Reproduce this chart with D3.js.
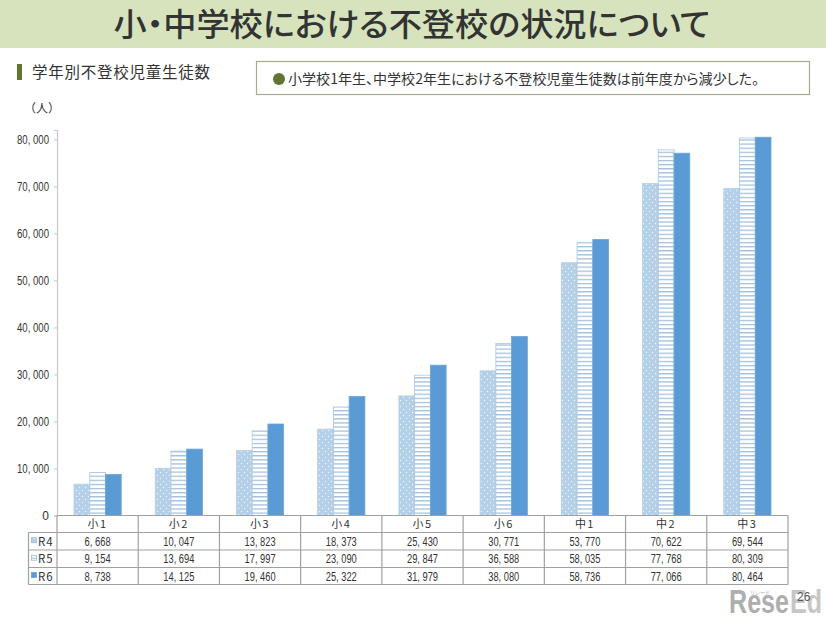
<!DOCTYPE html>
<html>
<head>
<meta charset="utf-8">
<script src="https://cdn.jsdelivr.net/npm/d3@7"></script>
<style>
html, body { margin: 0; padding: 0; background: #fff; }
text { font-family: "Noto Sans CJK JP", sans-serif; fill: #333; }
.palt { font-feature-settings: "palt"; }
.num { font-family: "Liberation Sans", sans-serif; }
</style>
</head>
<body>
<script>
var WIDTH = 826;
var HEIGHT = 617;

var categories = ['小1', '小2', '小3', '小4', '小5', '小6', '中1', '中2', '中3'];
var seriesNames = ['R4', 'R5', 'R6'];
var r4Values = [6668, 10047, 13823, 18373, 25430, 30771, 53770, 70622, 69544];
var r5Values = [9154, 13694, 17997, 23090, 29847, 36588, 58035, 77768, 80309];
var r6Values = [8738, 14125, 19460, 25322, 31979, 38080, 58736, 77066, 80464];
var yTicks = [0, 10000, 20000, 30000, 40000, 50000, 60000, 70000, 80000];

var allValues = [r4Values, r5Values, r6Values];
var numFormat = function(d){ return d3.format(',')(d).replace(',', ', '); };

var PLOT_LEFT = 57;
var PLOT_RIGHT = 788;
var PLOT_TOP = 130;
var PLOT_BOTTOM = 515.5;
var TABLE_LEFT = 28.5;
var ROW_LINES = [515.5, 532.5, 550, 567.5, 584.5];
var GRID = '#a0a0a0';

var svg = d3.select('body').append('svg')
    .attr('width', WIDTH)
    .attr('height', HEIGHT)
    .style('display', 'block');

// bar fills
var defs = svg.append('defs');
var dots = defs.append('pattern')
    .attr('id', 'dots')
    .attr('width', 6).attr('height', 6)
    .attr('patternUnits', 'userSpaceOnUse');
dots.append('rect').attr('width', 6).attr('height', 6).attr('fill', '#b4d0e8');
dots.append('circle').attr('cx', 1.5).attr('cy', 1.5).attr('r', 0.7).attr('fill', '#eef5fb');
dots.append('circle').attr('cx', 4.5).attr('cy', 4.5).attr('r', 0.7).attr('fill', '#eef5fb');

var stripes = defs.append('pattern')
    .attr('id', 'stripes')
    .attr('width', 4).attr('height', 4.1)
    .attr('patternUnits', 'userSpaceOnUse');
stripes.append('rect').attr('width', 4).attr('height', 4.1).attr('fill', '#fff');
stripes.append('rect').attr('width', 4).attr('height', 1.3).attr('fill', '#a3c0dc');

var fills = ['url(#dots)', 'url(#stripes)', '#5b9bd5'];
var strokes = ['#b4d0e8', '#a9c6e2', '#6ba5da'];

// header
svg.append('rect')
    .attr('width', WIDTH).attr('height', 48)
    .attr('fill', '#d6e3bc');
svg.append('text')
    .attr('class', 'palt')
    .attr('x', 412).attr('y', 36)
    .attr('text-anchor', 'middle')
    .attr('font-size', 32)
    .attr('font-weight', 500)
    .attr('textLength', 597)
    .attr('lengthAdjust', 'spacingAndGlyphs')
    .text('小・中学校における不登校の状況について');

svg.append('rect')
    .attr('x', 17).attr('y', 64).attr('width', 5).attr('height', 16)
    .attr('fill', '#5f7530');
svg.append('text')
    .attr('x', 32).attr('y', 78)
    .attr('font-size', 15.5)
    .attr('textLength', 178)
    .text('学年別不登校児童生徒数');

svg.append('rect')
    .attr('x', 256.5).attr('y', 61.5).attr('width', 553).attr('height', 33)
    .attr('fill', '#fff')
    .attr('stroke', '#a9a98f')
    .attr('stroke-width', 1.2);
svg.append('circle')
    .attr('cx', 279).attr('cy', 79).attr('r', 6)
    .attr('fill', '#5f7530');
svg.append('text')
    .attr('class', 'palt')
    .attr('x', 288).attr('y', 84)
    .attr('font-size', 14)
    .attr('textLength', 471)
    .attr('lengthAdjust', 'spacingAndGlyphs')
    .text('小学校1年生、中学校2年生における不登校児童生徒数は前年度から減少した。');

svg.append('text')
    .attr('x', 24).attr('y', 113)
    .attr('font-size', 12)
    .text('（人）');

// scales
var x = d3.scaleBand()
    .domain(categories)
    .range([PLOT_LEFT, PLOT_RIGHT]);
var xInner = d3.scaleBand()
    .domain(seriesNames)
    .range([0, x.bandwidth()])
    .paddingOuter(1.08)
    .paddingInner(0);
var y = d3.scaleLinear()
    .domain([0, 82000])
    .range([PLOT_BOTTOM, PLOT_TOP]);

// bars
seriesNames.forEach(function(name, s){
    svg.append('g').selectAll('rect')
        .data(allValues[s])
        .enter().append('rect')
        .attr('x', function(d, i){ return x(categories[i]) + xInner(name); })
        .attr('y', function(d){ return y(d); })
        .attr('width', xInner.bandwidth())
        .attr('height', function(d){ return y(0) - y(d); })
        .attr('fill', fills[s])
        .attr('stroke', strokes[s])
        .attr('stroke-width', 0.8);
});

// y axis
var yAxis = svg.append('g')
    .attr('transform', 'translate(' + PLOT_LEFT + ',0)')
    .call(d3.axisLeft(y).tickValues(yTicks).tickSize(3).tickFormat(numFormat));
yAxis.select('.domain').attr('stroke', '#c8c8c8').attr('stroke-width', 1.2);
yAxis.selectAll('.tick line').attr('stroke', '#c8c8c8');
yAxis.selectAll('.tick text')
    .attr('class', 'num')
    .attr('x', -8)
    .attr('font-size', 12)
    .attr('textLength', function(d){ return d === 0 ? null : 32; })
    .attr('lengthAdjust', 'spacingAndGlyphs');

// data table
var table = svg.append('g');
table.selectAll('.row-line')
    .data(ROW_LINES)
    .enter().append('line')
    .attr('class', 'row-line')
    .attr('x1', function(d, i){ return i === 0 ? PLOT_LEFT : TABLE_LEFT; })
    .attr('x2', PLOT_RIGHT)
    .attr('y1', function(d){ return d; })
    .attr('y2', function(d){ return d; })
    .attr('stroke', GRID)
    .attr('stroke-width', 1.2);
table.selectAll('.col-line')
    .data(categories.concat(['end']))
    .enter().append('line')
    .attr('class', 'col-line')
    .attr('x1', function(d, i){ return PLOT_LEFT + i * x.bandwidth(); })
    .attr('x2', function(d, i){ return PLOT_LEFT + i * x.bandwidth(); })
    .attr('y1', ROW_LINES[0])
    .attr('y2', ROW_LINES[4])
    .attr('stroke', GRID)
    .attr('stroke-width', 1.2);
table.append('line')
    .attr('x1', TABLE_LEFT).attr('x2', TABLE_LEFT)
    .attr('y1', ROW_LINES[1]).attr('y2', ROW_LINES[4])
    .attr('stroke', GRID)
    .attr('stroke-width', 1.2);

table.selectAll('.cat-label')
    .data(categories)
    .enter().append('text')
    .attr('class', 'cat-label')
    .attr('x', function(d){ return x(d) + x.bandwidth() / 2; })
    .attr('y', 528)
    .attr('text-anchor', 'middle')
    .attr('font-size', 11)
    .attr('letter-spacing', 1.5)
    .text(function(d){ return d; });

seriesNames.forEach(function(name, s){
    var rowY = ROW_LINES[s + 1];
    var rowMid = (ROW_LINES[s + 1] + ROW_LINES[s + 2]) / 2;
    table.append('rect')
        .attr('x', 31.5).attr('y', rowMid - 3.5)
        .attr('width', 5).attr('height', 5)
        .attr('fill', fills[s])
        .attr('stroke', s === 2 ? '#5b9bd5' : '#8db6da')
        .attr('stroke-width', 0.7);
    table.append('text')
        .attr('x', 38).attr('y', rowY + 13)
        .attr('font-size', 11.5)
        .attr('letter-spacing', 1)
        .text(name);
    table.selectAll('.val-' + s)
        .data(allValues[s])
        .enter().append('text')
        .attr('class', 'num val-' + s)
        .attr('x', function(d, i){ return x(categories[i]) + x.bandwidth() / 2; })
        .attr('y', rowY + 13)
        .attr('text-anchor', 'middle')
        .attr('font-size', 12)
        .attr('textLength', function(d){ return d < 10000 ? 26 : 31; })
        .attr('lengthAdjust', 'spacingAndGlyphs')
        .text(numFormat);
});

// watermark and page number
svg.append('text')
    .attr('class', 'num')
    .attr('x', 729).attr('y', 613)
    .attr('font-size', 33)
    .attr('font-weight', 700)
    .style('fill', '#aeaeae')
    .attr('textLength', 60)
    .attr('lengthAdjust', 'spacingAndGlyphs')
    .text('Rese');
svg.append('text')
    .attr('class', 'num')
    .attr('x', 790).attr('y', 613)
    .attr('font-size', 33)
    .attr('font-weight', 700)
    .style('fill', '#c6c6c6')
    .attr('textLength', 32)
    .attr('lengthAdjust', 'spacingAndGlyphs')
    .text('Ed');
svg.append('text')
    .attr('x', 750).attr('y', 594)
    .attr('font-size', 5)
    .style('fill', '#a0a0a0')
    .text('リシード');
svg.append('text')
    .attr('class', 'num')
    .attr('x', 797).attr('y', 601)
    .attr('font-size', 12)
    .style('fill', '#555')
    .text('26');
</script>
</body>
</html>
